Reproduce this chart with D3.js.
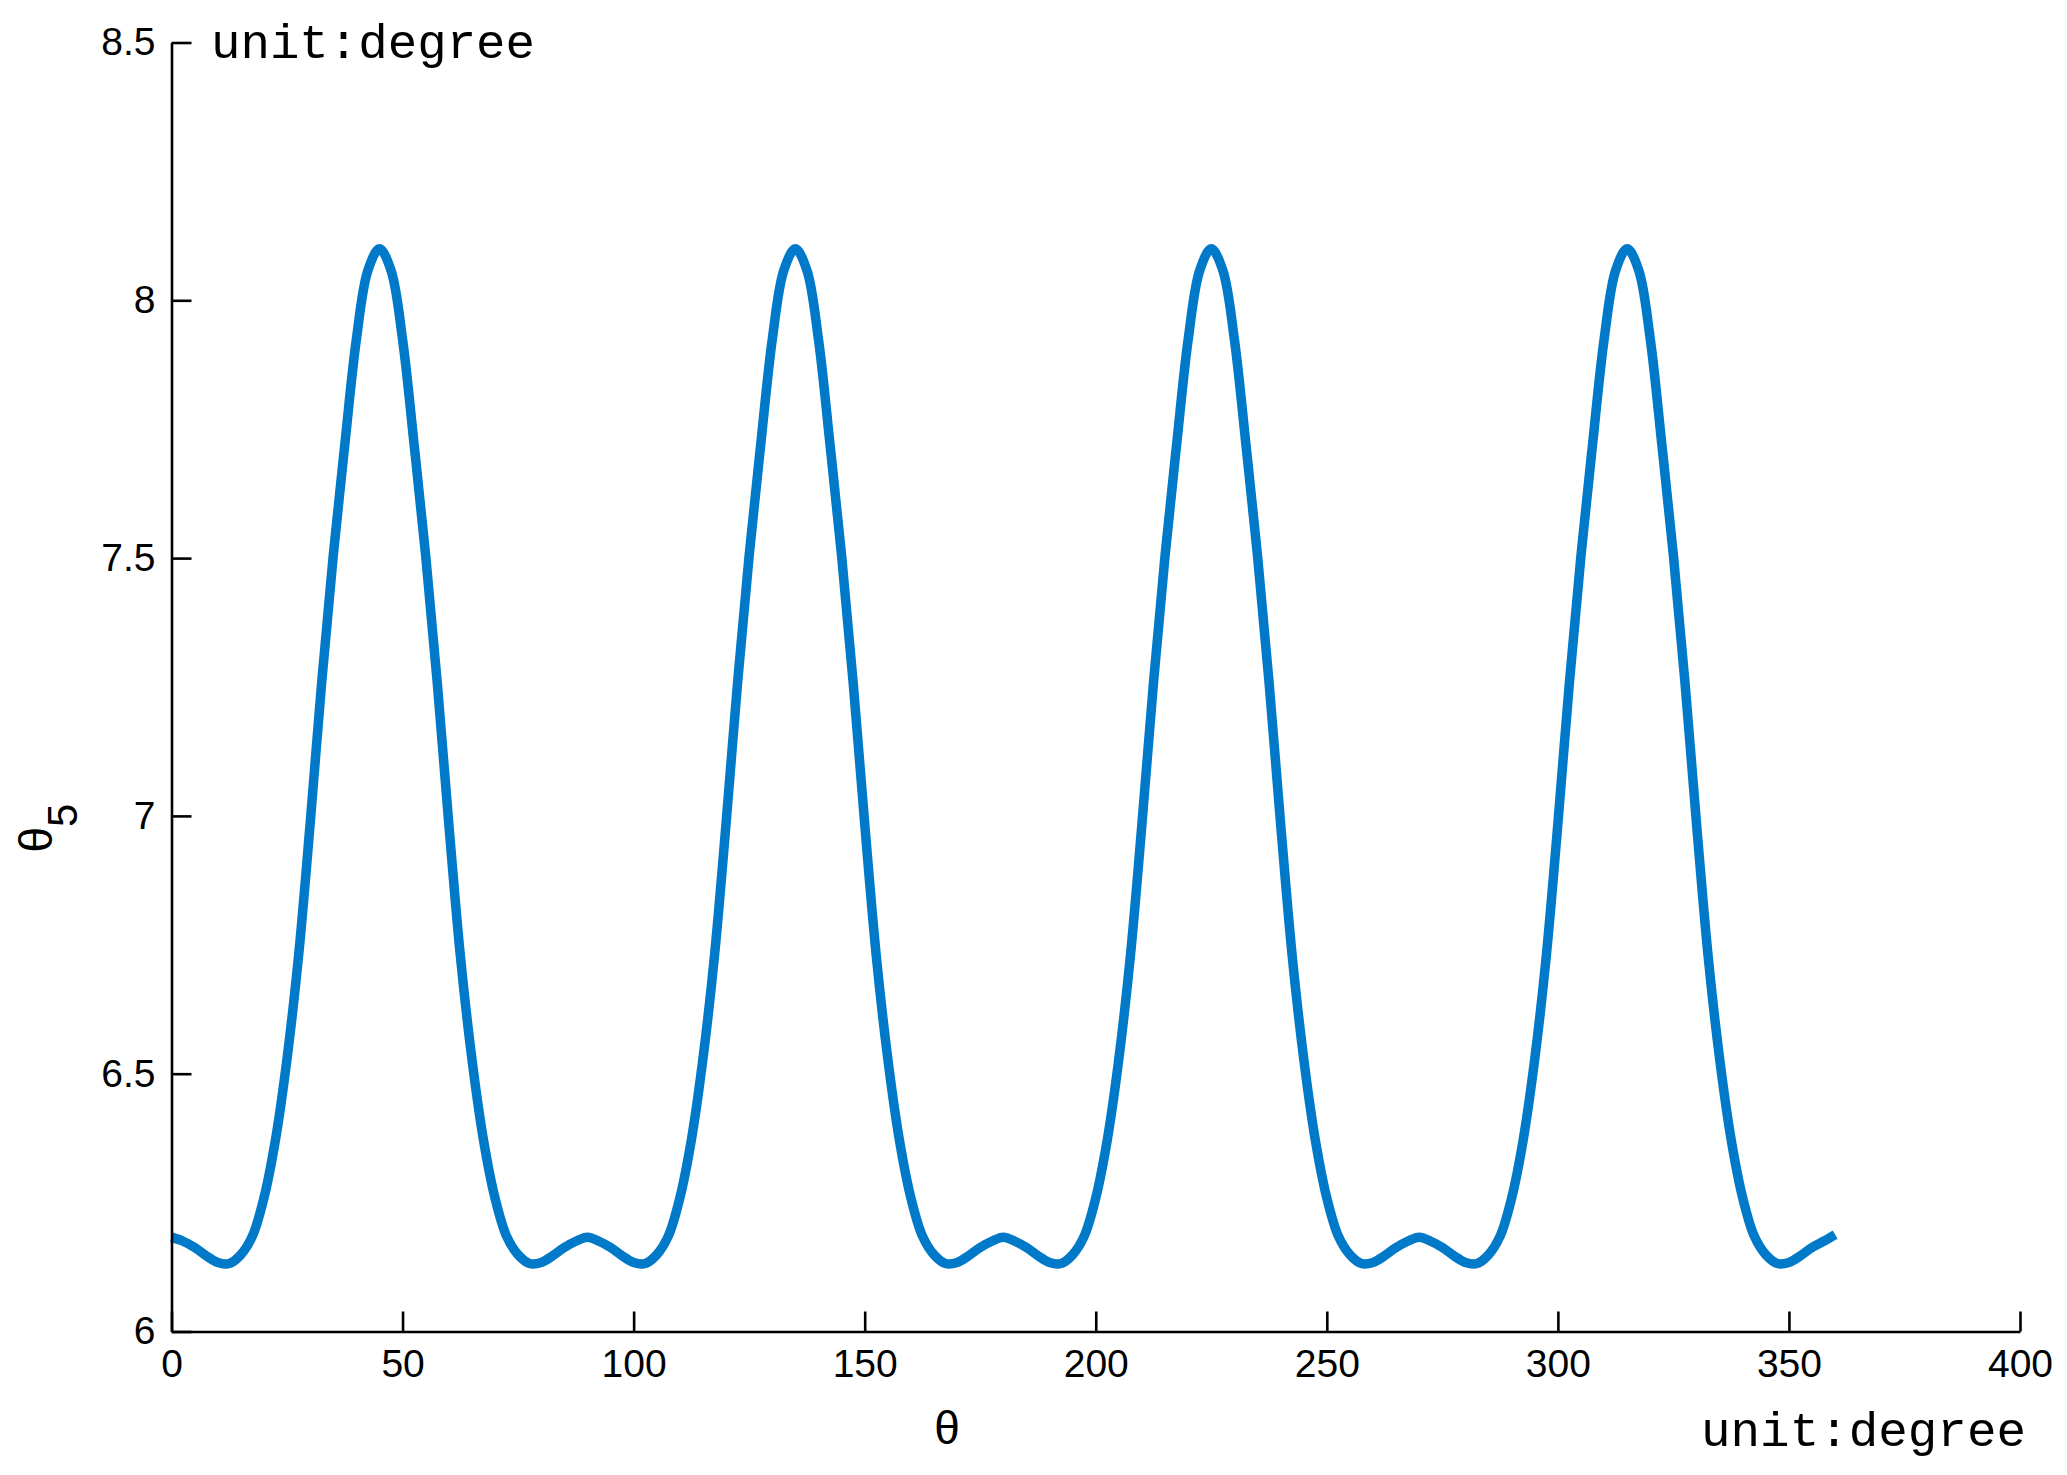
<!DOCTYPE html>
<html>
<head>
<meta charset="utf-8">
<script src="https://cdn.jsdelivr.net/npm/d3@7"></script>
<style>
  html, body { margin: 0; padding: 0; background: #fff; }
  svg { display: block; }
  .tick text { font-family: "Liberation Sans", Arial, sans-serif; font-size: 39px; fill: #000; }
  .unit { font-family: "Liberation Mono", "Courier New", monospace; font-size: 48px; fill: #000; }
  .lbl { font-family: "Liberation Sans", Arial, sans-serif; font-size: 46px; fill: #000; }
</style>
</head>
<body>
<svg id="chart" width="2067" height="1475"></svg>
<script>
// theta sampled every 2.5 degree, 0..360
var theta = d3.range(0, 360.01, 2.5);

// theta5 (unit: degree)
var theta5 = [
  6.183, 6.175, 6.163, 6.147, 6.134, 6.132, 6.149, 6.185, 6.259, 6.372, 6.529, 6.729, 6.985,
  7.259, 7.505, 7.720, 7.924, 8.058, 8.100, 8.058, 7.924, 7.720, 7.505, 7.259, 6.985, 6.729,
  6.529, 6.372, 6.259, 6.185, 6.149, 6.132, 6.134, 6.147, 6.163, 6.175, 6.183,
  6.175, 6.163, 6.147, 6.134, 6.132, 6.149, 6.185, 6.259, 6.372, 6.529, 6.729, 6.985,
  7.259, 7.505, 7.720, 7.924, 8.058, 8.100, 8.058, 7.924, 7.720, 7.505, 7.259, 6.985, 6.729,
  6.529, 6.372, 6.259, 6.185, 6.149, 6.132, 6.134, 6.147, 6.163, 6.175, 6.183,
  6.175, 6.163, 6.147, 6.134, 6.132, 6.149, 6.185, 6.259, 6.372, 6.529, 6.729, 6.985,
  7.259, 7.505, 7.720, 7.924, 8.058, 8.100, 8.058, 7.924, 7.720, 7.505, 7.259, 6.985, 6.729,
  6.529, 6.372, 6.259, 6.185, 6.149, 6.132, 6.134, 6.147, 6.163, 6.175, 6.183,
  6.175, 6.163, 6.147, 6.134, 6.132, 6.149, 6.185, 6.259, 6.372, 6.529, 6.729, 6.985,
  7.259, 7.505, 7.720, 7.924, 8.058, 8.100, 8.058, 7.924, 7.720, 7.505, 7.259, 6.985, 6.729,
  6.529, 6.372, 6.259, 6.185, 6.149, 6.132, 6.134, 6.147, 6.163, 6.175, 6.188
];

var xTicks = [0, 50, 100, 150, 200, 250, 300, 350, 400];
var yTicks = [6, 6.5, 7, 7.5, 8, 8.5];

var svg = d3.select("#chart");

var x = d3.scaleLinear().domain([0, 400]).range([171.5, 2020]);
var y = d3.scaleLinear().domain([6, 8.5]).range([1331.5, 42.5]);

var data = theta.map(function(t, i) { return {t: t, v: theta5[i]}; });

// curve first so the axes sit on top
var line = d3.line()
    .x(function(d) { return x(d.t); })
    .y(function(d) { return y(d.v); })
    .curve(d3.curveCatmullRom.alpha(0.5));

svg.append("path")
    .datum(data)
    .attr("fill", "none")
    .attr("stroke", "#0079c8")
    .attr("stroke-width", 9.5)
    .attr("stroke-linejoin", "round")
    .attr("d", line);

var xAxis = svg.append("g")
    .attr("transform", "translate(0,1331.5)")
    .call(d3.axisBottom(x).tickValues(xTicks).tickFormat(d3.format("d"))
      .tickSizeInner(-20).tickSizeOuter(0).tickPadding(18));

var yAxis = svg.append("g")
    .attr("transform", "translate(171.5,0)")
    .call(d3.axisLeft(y).tickValues(yTicks).tickFormat(function(d) { return d3.format("")(d); })
      .tickSizeInner(-20).tickSizeOuter(0).tickPadding(16));

svg.selectAll(".domain, .tick line")
    .attr("stroke", "#000")
    .attr("stroke-width", 2.6);

// unit labels
svg.append("text").attr("class", "unit")
    .attr("x", 211).attr("y", 58)
    .attr("textLength", 324).attr("lengthAdjust", "spacingAndGlyphs")
    .text("unit:degree");

svg.append("text").attr("class", "unit")
    .attr("x", 1701).attr("y", 1446)
    .attr("textLength", 325).attr("lengthAdjust", "spacingAndGlyphs")
    .text("unit:degree");

// axis titles
svg.append("text").attr("class", "lbl")
    .attr("x", 947).attr("y", 1444)
    .attr("text-anchor", "middle")
    .text("θ");

var yl = svg.append("text").attr("class", "lbl")
    .attr("transform", "translate(52,828) rotate(-90)")
    .attr("text-anchor", "middle");
yl.append("tspan").text("θ");
yl.append("tspan").attr("dy", 25).attr("font-size", 42).text("5");
</script>
</body>
</html>
